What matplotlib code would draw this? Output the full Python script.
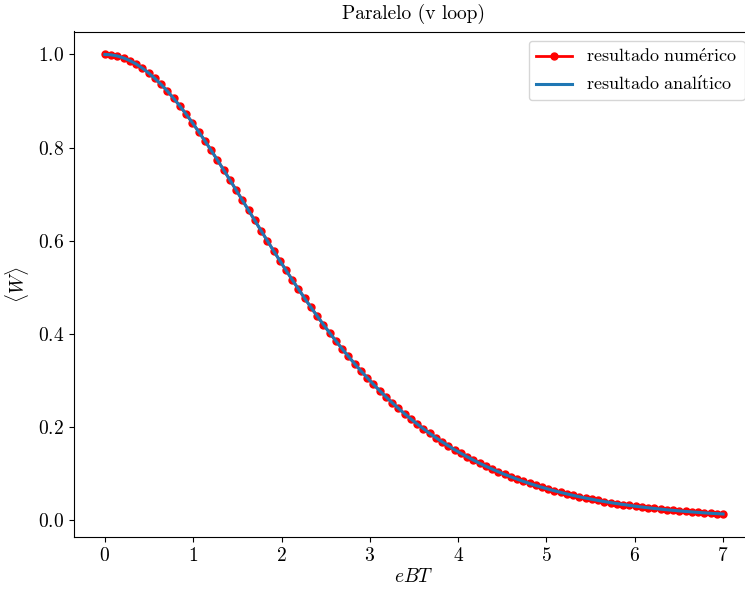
import numpy as np
import matplotlib
matplotlib.use("Agg")
import matplotlib.pyplot as plt

plt.rcParams['font.family'] = ['cmr10', 'DejaVu Serif']
plt.rcParams['mathtext.fontset'] = 'cm'
plt.rcParams['axes.formatter.use_mathtext'] = True
plt.rcParams['font.size'] = 14
plt.rcParams['axes.titlesize'] = 14
plt.rcParams['axes.labelsize'] = 14
plt.rcParams['xtick.labelsize'] = 14
plt.rcParams['ytick.labelsize'] = 14
plt.rcParams['legend.fontsize'] = 13

# Malla de eBT (100 puntos entre 0 y 7)
eBT = np.linspace(0, 7, 100)

# <W> obtenido numéricamente
W_num = [
    1.0000, 0.9992, 0.9967, 0.9925, 0.9868, 0.9795, 0.9706, 0.9603, 0.9486, 0.9356,
    0.9213, 0.9059, 0.8894, 0.8719, 0.8536, 0.8345, 0.8147, 0.7944, 0.7736, 0.7524,
    0.7309, 0.7091, 0.6873, 0.6654, 0.6435, 0.6217, 0.6001, 0.5786, 0.5574, 0.5366,
    0.5160, 0.4959, 0.4761, 0.4568, 0.4380, 0.4196, 0.4018, 0.3844, 0.3676, 0.3513,
    0.3356, 0.3203, 0.3056, 0.2914, 0.2778, 0.2646, 0.2520, 0.2398, 0.2282, 0.2170,
    0.2063, 0.1960, 0.1862, 0.1768, 0.1678, 0.1593, 0.1511, 0.1433, 0.1358, 0.1287,
    0.1220, 0.1155, 0.1094, 0.1036, 0.0980, 0.0928, 0.0878, 0.0830, 0.0785, 0.0742,
    0.0702, 0.0663, 0.0626, 0.0592, 0.0559, 0.0528, 0.0498, 0.0470, 0.0444, 0.0419,
    0.0395, 0.0373, 0.0352, 0.0332, 0.0313, 0.0295, 0.0278, 0.0262, 0.0247, 0.0233,
    0.0219, 0.0207, 0.0195, 0.0183, 0.0173, 0.0163, 0.0153, 0.0144, 0.0136, 0.0128,
]

# <W> analítico en la misma malla
W_ana = list(W_num)

fig = plt.figure(figsize=(7.45, 5.96), dpi=100)
ax = fig.add_axes([74 / 745, 59 / 596, 680 / 745, 505.5 / 596])

ax.plot(eBT, W_num, '-o', color='red', lw=2, markersize=5,
        label=r'$\mathrm{resultado\ num\acute{e}rico}$')
ax.plot(eBT, W_ana, '-', color='tab:blue', lw=2.2,
        label=r'$\mathrm{resultado\ anal\acute{ı}tico}$')

ax.set_title('Paralelo (v loop)', pad=9)
ax.set_xlabel(r'$eBT$', labelpad=2)
ax.set_ylabel(r'$\langle W\rangle$', labelpad=5)
ax.legend(loc='upper right')

fig.savefig('out.png', dpi=100)
